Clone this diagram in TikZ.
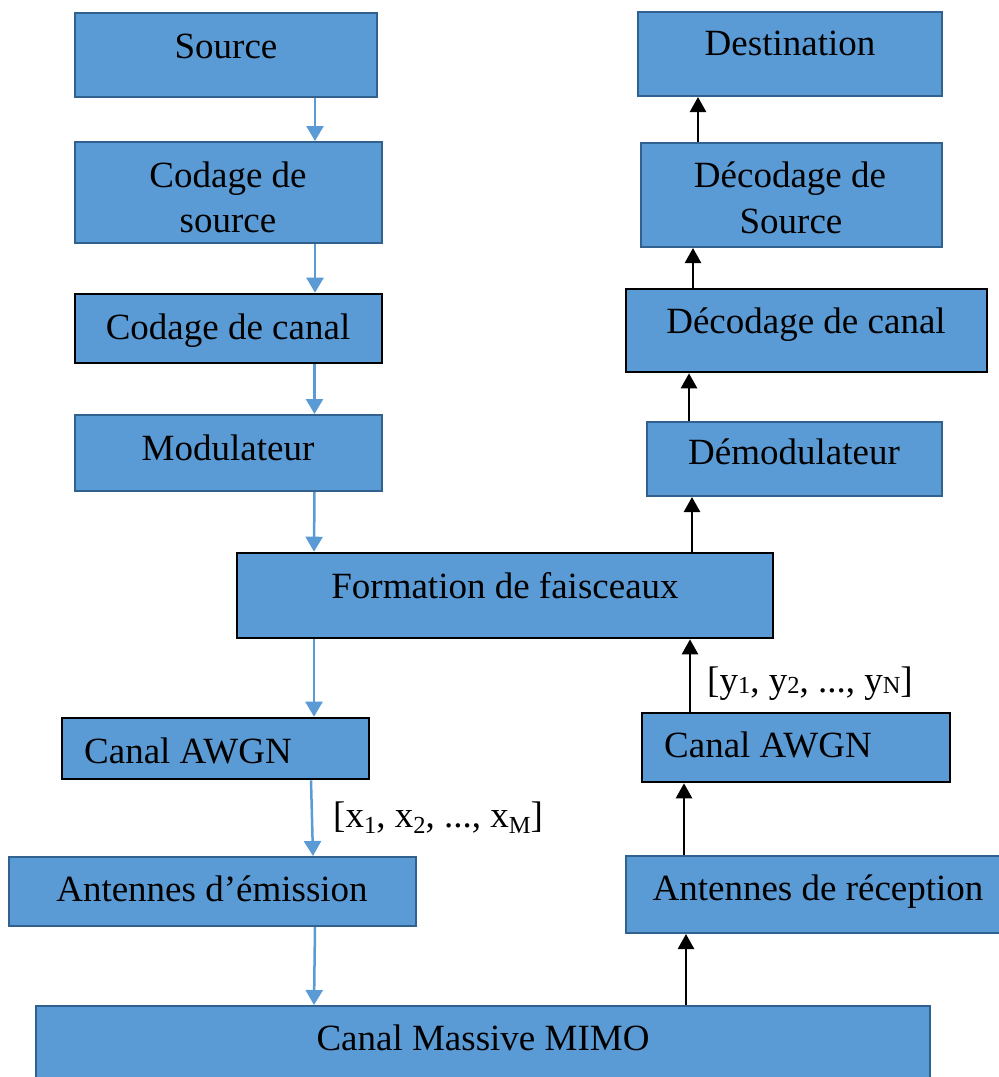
\documentclass[tikz,border=0pt]{standalone}
\usepackage{fontspec}
\setmainfont{Liberation Serif}
\usetikzlibrary{arrows.meta}
\definecolor{boxfill}{HTML}{5B9BD5}
\definecolor{boxedge}{HTML}{31618F}
\definecolor{flowblue}{HTML}{5B9BD5}
% lowered, smaller index for the vector labels
\newcommand{\idx}[2]{\raisebox{#1}{\fontsize{24.5}{24.5}\selectfont #2}}
\tikzset{
  blk/.style={rectangle, fill=boxfill, draw=boxedge, line width=2pt, inner sep=0pt},
  blkdark/.style={blk, draw=black, line width=2.6pt},
  txt/.style={inner sep=0pt, anchor=base, font=\fontsize{37}{45}\selectfont},
  lbl/.style={inner sep=0pt, anchor=base west, font=\fontsize{37}{45}\selectfont},
  txflow/.style={draw=flowblue, line width=2.5pt, -{Triangle[width=17pt,length=15pt]}},
  rxflow/.style={draw=black, line width=2.5pt, -{Triangle[width=16pt,length=15pt]}}
}
\begin{document}
\begin{tikzpicture}[x=1pt,y=-1pt]
\useasboundingbox (0,0) rectangle (999,1077);
\clip (0,0) rectangle (999,1077);

% ---- transmitter chain (left) ----
\node[blk, minimum width=302pt, minimum height=84pt] (src) at (226,55) {};
\node[blk, minimum width=307pt, minimum height=101pt] (csrc) at (228.5,192.5) {};
\node[blkdark, minimum width=307pt, minimum height=69pt] (ccan) at (228.5,328.5) {};
\node[blk, minimum width=307pt, minimum height=76pt] (mod) at (228.5,453) {};
\node[blkdark, minimum width=536pt, minimum height=85pt] (form) at (505,595.5) {};
\node[blkdark, minimum width=307pt, minimum height=61pt] (awgnL) at (215.5,748.5) {};
\node[blk, minimum width=407pt, minimum height=69pt] (antE) at (212.5,891.5) {};
\node[blk, minimum width=894pt, minimum height=100pt] (mimo) at (483,1056) {};

% ---- receiver chain (right) ----
\node[blk, minimum width=304pt, minimum height=84pt] (dest) at (790,54) {};
\node[blk, minimum width=301pt, minimum height=104pt] (dsrc) at (791.5,195) {};
\node[blkdark, minimum width=361pt, minimum height=83pt] (dcan) at (806.5,330.5) {};
\node[blk, minimum width=295pt, minimum height=74pt] (demod) at (794.5,459) {};
\node[blkdark, minimum width=308pt, minimum height=69pt] (awgnR) at (796,747.5) {};
\node[blk, minimum width=384pt, minimum height=77pt] (antR) at (818,894.5) {};

% ---- texts ----
\node[txt] (tsrc) at (226,58) {Source};
\node[txt] (tcsrcA) at (228,187) {Codage de};
\node[txt] (tcsrcB) at (228,232) {source};
\node[txt] (tccan) at (228,339) {Codage de canal};
\node[txt] (tmod) at (228,460) {Modulateur};
\node[txt] (tform) at (505,598) {Formation de faisceaux};
\node[txt] (tawgnL) at (188,763) {Canal AWGN};
\node[txt] (tantE) at (212,901) {Antennes d’émission};
\node[txt] (tmimo) at (483,1050) {Canal Massive MIMO};
\node[txt] (tdest) at (790,55) {Destination};
\node[txt] (tdsrcA) at (790,187) {Décodage de};
\node[txt] (tdsrcB) at (791,233) {Source};
\node[txt] (tdcan) at (806,333) {Décodage de canal};
\node[txt] (tdemod) at (794,464) {Démodulateur};
\node[txt] (tawgnR) at (768,757) {Canal AWGN};
\node[txt] (tantR) at (818,900) {Antennes de réception};

\node[lbl] (xvec) at (333,827) {[x\idx{-6pt}{1}, x\idx{-6pt}{2}, ..., x\idx{-6pt}{M}]};
\node[lbl] (yvec) at (707,692) {[y\idx{-1pt}{1}, y\idx{-1pt}{2}, ..., y\idx{-1pt}{N}]};

% ---- transmit flow (blue, downward) ----
\draw[txflow] ([xshift=89pt]src.south) -- ([xshift=86.5pt]csrc.north);
\draw[txflow] ([xshift=86.5pt]csrc.south) -- ([xshift=86.5pt]ccan.north);
\draw[txflow] ([xshift=86pt]ccan.south) -- ([xshift=86pt]mod.north);
\draw[txflow] ([xshift=86pt]mod.south) -- ([xshift=-191pt]form.north);
\draw[txflow] ([xshift=-191pt]form.south) -- ([xshift=98.5pt]awgnL.north);
\draw[txflow] ([xshift=95.5pt]awgnL.south) -- ([xshift=100.5pt]antE.north);
\draw[txflow] ([xshift=102.5pt]antE.south) -- ([xshift=-169pt]mimo.north);

% ---- receive flow (black, upward) ----
\draw[rxflow] ([xshift=203pt]mimo.north) -- ([xshift=-132pt]antR.south);
\draw[rxflow] ([xshift=-134pt]antR.north) -- ([xshift=-112pt]awgnR.south);
\draw[rxflow] ([xshift=-106pt]awgnR.north) -- ([xshift=185pt]form.south);
\draw[rxflow] ([xshift=187pt]form.north) -- ([xshift=-102.5pt]demod.south);
\draw[rxflow] ([xshift=-105.5pt]demod.north) -- ([xshift=-117.5pt]dcan.south);
\draw[rxflow] ([xshift=-113.5pt]dcan.north) -- ([xshift=-98.5pt]dsrc.south);
\draw[rxflow] ([xshift=-93.5pt]dsrc.north) -- ([xshift=-92pt]dest.south);
\end{tikzpicture}
\end{document}
